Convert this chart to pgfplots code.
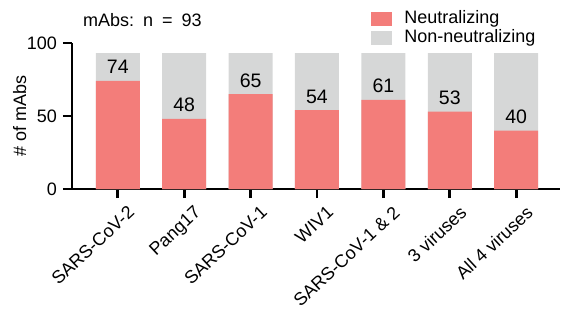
\documentclass[border=0pt]{standalone}
\usepackage{pgfplots}
\pgfplotsset{compat=1.18}
\usepackage{fontspec}
\setmainfont{Liberation Sans}
\definecolor{neut}{RGB}{243,125,122}
\definecolor{nonneut}{RGB}{214,215,215}
\pgfplotsset{sqlegend/.style={legend image code/.code={\fill[##1] (0bp,-7bp) rectangle (21bp,7bp);}}}
\begin{document}
\fontsize{18bp}{21bp}\selectfont
\begin{tikzpicture}
\useasboundingbox (-72bp,-132bp) rectangle (501bp,189bp);
\begin{axis}[
 at={(0,0)}, anchor=south west,
 scale only axis, width=488bp, height=146bp,
 ybar=0pt, bar width=44bp, bar shift=0pt,
 xmin=-0.69, xmax=6.66, ymin=0, ymax=100,
 ytick={0,50,100}, xtick=data,
 xticklabels={SARS-CoV-2,Pang17,SARS-CoV-1,WIV1,SARS-CoV-1 \& 2,3 viruses,All 4 viruses},
 xticklabel style={rotate=43, anchor=north east, inner sep=1bp, yshift=-10bp, xshift=3bp,
   font=\fontsize{18bp}{21bp}\selectfont},
 axis x line*=bottom, axis y line*=left,
 axis line style={line width=2.8bp},
 tick align=outside, major tick length=9bp,
 every tick/.style={black, line width=2.8bp},
 /pgf/number format/assume math mode=true,
 ylabel={\# of mAbs},
 ylabel style={at={(axis description cs:-0.107,0.5)}, anchor=center},
 clip=false,
 reverse legend,
 legend style={at={(rel axis cs:0.613,1.226)}, anchor=north west, draw=none, fill=none,
   row sep=2bp, column sep=12bp, inner sep=0pt,
   nodes={inner sep=0pt, text height=13bp, text depth=4bp, anchor=west}},
 legend cell align=left,
]
% total bar (neutralizing + non-neutralizing = 93)
\addplot[fill=nonneut, draw=none, sqlegend]
 coordinates {(0,93) (1,93) (2,93) (3,93) (4,93) (5,93) (6,93)};
\addlegendentry{Non-neutralizing}
\addplot[fill=neut, draw=none, sqlegend,
  nodes near coords, point meta=y,
  every node near coord/.append style={anchor=base, yshift=7bp, inner sep=0pt, black,
    font=\fontsize{19.5bp}{22bp}\selectfont,
    /pgf/number format/assume math mode=true}]
 coordinates {(0,74) (1,48) (2,65) (3,54) (4,61) (5,53) (6,40)};
\addlegendentry{Neutralizing}
\node[anchor=west, inner sep=0pt] at (rel axis cs:0.0225,1.157) {mAbs:\hspace{9bp}n\hspace{9bp}=\hspace{9bp}93};
\end{axis}
\end{tikzpicture}
\end{document}
